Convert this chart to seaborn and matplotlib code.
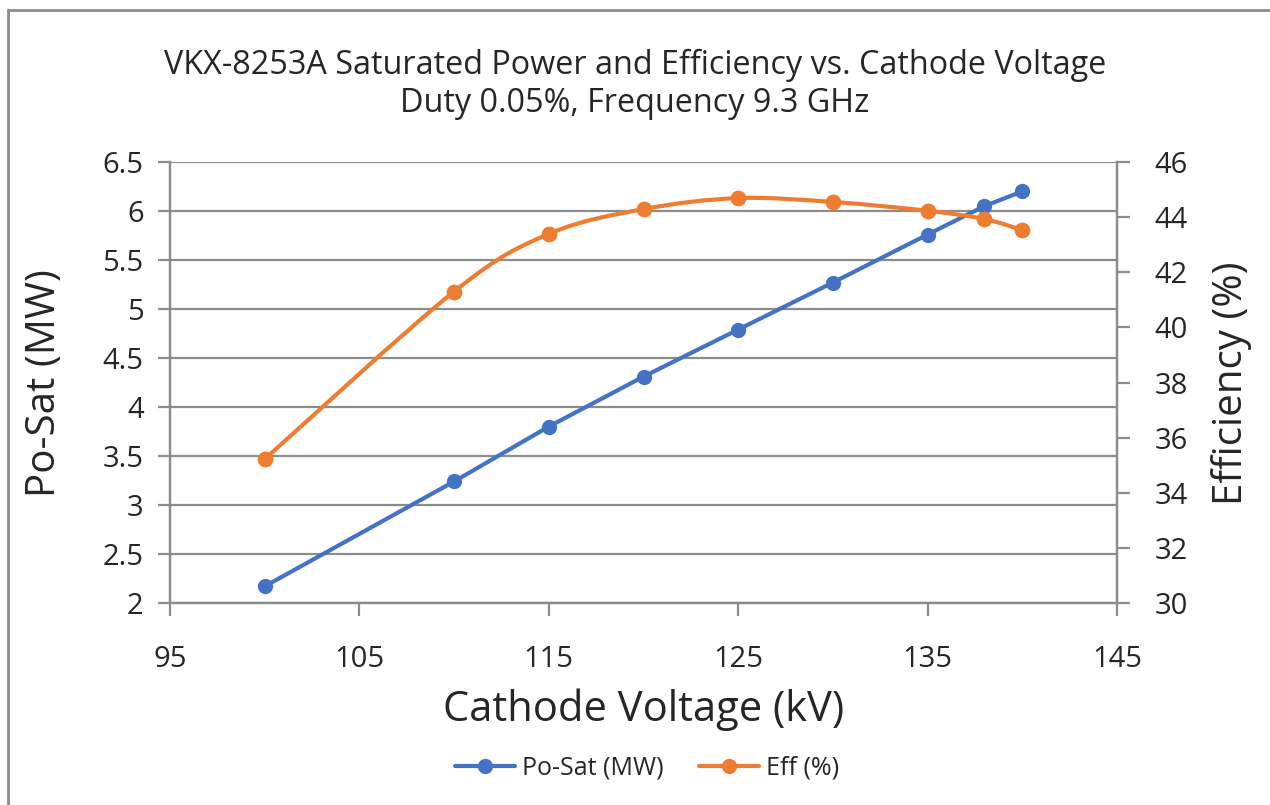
import numpy as np
import pandas as pd
import matplotlib
matplotlib.use("Agg")
import matplotlib.pyplot as plt
import seaborn as sns
from matplotlib.path import Path
from matplotlib.patches import PathPatch
from matplotlib.lines import Line2D

# Values
voltage_kv = [100, 110, 115, 120, 125, 130, 135, 138, 140]
po_sat_mw = [2.17, 3.24, 3.80, 4.31, 4.79, 5.27, 5.76, 6.05, 6.20]
eff_pct = [35.22, 41.30, 43.39, 44.29, 44.69, 44.55, 44.23, 43.93, 43.53]

x_ticks = [95, 105, 115, 125, 135, 145]
left_ticks = [2, 2.5, 3, 3.5, 4, 4.5, 5, 5.5, 6, 6.5]
right_ticks = [30, 32, 34, 36, 38, 40, 42, 44, 46]

blue = "#4472C4"
orange = "#ED7D31"
grey = "#8c8c8c"


def smooth_path(x, y, t=1 / 6):
    # Excel-style smoothed line: cubic Bezier through the data points
    pts = np.column_stack([x, y]).astype(float)
    n = len(pts)
    verts = [pts[0]]
    codes = [Path.MOVETO]
    for i in range(n - 1):
        p_prev = pts[max(i - 1, 0)]
        p_next = pts[min(i + 2, n - 1)]
        c1 = pts[i] + (pts[i + 1] - p_prev) * t
        c2 = pts[i + 1] - (p_next - pts[i]) * t
        verts += [c1, c2, pts[i + 1]]
        codes += [Path.CURVE4] * 3
    return Path(verts, codes)


sns.set_theme(style="white")
plt.rcParams["font.family"] = ["Open Sans", "DejaVu Sans"]

df = pd.DataFrame({"voltage": voltage_kv, "po_sat": po_sat_mw, "eff": eff_pct})

fig = plt.figure(figsize=(12.7, 8.05), dpi=100)
ax = fig.add_axes([170 / 1270, 1 - 603 / 805, (1117 - 170) / 1270, (603 - 162) / 805])

sns.lineplot(data=df, x="voltage", y="po_sat", ax=ax, color=blue, lw=3,
             marker="o", markersize=11, markeredgewidth=0)
ax.set_xlim(95, 145)
ax.set_ylim(2, 6.5)
ax.set_xticks(x_ticks)
ax.set_yticks(left_ticks)
ax.set_yticklabels([f"{v:g}" for v in left_ticks])
ax.set_xlabel("")
ax.set_ylabel("")
ax.grid(axis="y", color=grey, lw=1.6)
ax.set_axisbelow(True)

ax2 = ax.twinx()
ax2.add_patch(PathPatch(smooth_path(df["voltage"], df["eff"]), fill=False,
                        edgecolor=orange, lw=3, capstyle="round"))
sns.scatterplot(data=df, x="voltage", y="eff", ax=ax2, color=orange, s=130,
                linewidth=0, zorder=3)
ax2.set_ylim(30, 46)
ax2.set_yticks(right_ticks)
ax2.set_ylabel("")
ax2.grid(False)

for a in (ax, ax2):
    for side in ["left", "right", "bottom"]:
        a.spines[side].set_color(grey)
        a.spines[side].set_linewidth(1.6)
    a.spines["top"].set_visible(False)

ax.tick_params(axis="x", direction="out", length=9, width=1.6, color=grey,
               labelsize=21, pad=21, bottom=True)
ax.tick_params(axis="y", direction="out", length=9, width=1.6, color=grey,
               labelsize=21, pad=10, left=True)
ax2.tick_params(axis="y", direction="out", length=9, width=1.6, color=grey,
                labelsize=21, pad=18, right=True)

fig.text(45 / 1270, 1 - 383 / 805, "Po-Sat (MW)", rotation=90, ha="center",
         va="center", fontsize=29)
fig.text(1232 / 1270, 1 - 383 / 805, "Efficiency (%)", rotation=90, ha="center",
         va="center", fontsize=29)
fig.text(644 / 1270, 1 - 710 / 805, "Cathode Voltage (kV)", ha="center",
         va="center", fontsize=30)

fig.text(0.5, 1 - 65 / 805, "VKX-8253A Saturated Power and Efficiency vs. Cathode Voltage",
         ha="center", va="center", fontsize=23.3)
fig.text(0.5, 1 - 103 / 805, "Duty 0.05%, Frequency 9.3 GHz",
         ha="center", va="center", fontsize=23.3)

handles = [
    Line2D([], [], color=blue, lw=3, marker="o", markersize=11, markeredgewidth=0),
    Line2D([], [], color=orange, lw=3, marker="o", markersize=11, markeredgewidth=0),
]
fig.legend(handles, ["Po-Sat (MW)", "Eff (%)"], loc="center",
           bbox_to_anchor=(647 / 1270, 1 - 768 / 805), ncol=2, frameon=False,
           fontsize=18, handlelength=2.4, handletextpad=0.3, columnspacing=1.4)

# chart-area border (top and left edges visible in the reference)
fig.add_artist(Line2D([8 / 1270, 1], [1 - 10 / 805] * 2, transform=fig.transFigure,
                      color=grey, lw=2))
fig.add_artist(Line2D([8 / 1270] * 2, [0, 1 - 10 / 805], transform=fig.transFigure,
                      color=grey, lw=2))

fig.savefig("out.png", dpi=100)
